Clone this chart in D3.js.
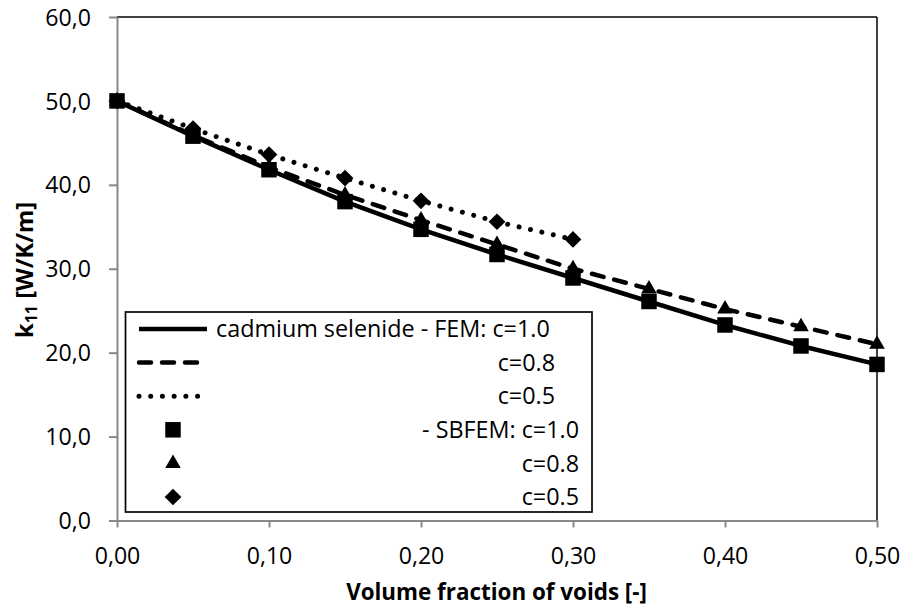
<!DOCTYPE html>
<html>
<head>
<meta charset="utf-8">
<script src="https://cdn.jsdelivr.net/npm/d3@7"></script>
<style>
body { margin: 0; background: #fff; }
svg { display: block; font-family: "Open Sans", sans-serif; }
</style>
</head>
<body>
<svg id="chart" width="906" height="612"></svg>
<script>
// values
var voidFraction = [0.00, 0.05, 0.10, 0.15, 0.20, 0.25, 0.30, 0.35, 0.40, 0.45, 0.50];
var femC10 = [50.0, 45.8, 41.8, 38.0, 34.7, 31.7, 28.9, 26.1, 23.3, 20.8, 18.6];
var femC08 = [50.0, 45.9, 42.1, 38.8, 35.8, 32.9, 30.0, 27.6, 25.2, 23.1, 21.0];
var femC05 = [50.0, 46.7, 43.6, 40.8, 38.1, 35.6, 33.5];
var sbfemC10 = [50.0, 45.8, 41.8, 38.0, 34.7, 31.7, 28.9, 26.1, 23.3, 20.8, 18.6];
var sbfemC08 = [50.0, 45.9, 42.1, 38.8, 35.8, 32.9, 30.0, 27.6, 25.2, 23.1, 21.0];
var sbfemC05 = [50.0, 46.7, 43.6, 40.8, 38.1, 35.6, 33.5];
var xTicks = [0, 0.1, 0.2, 0.3, 0.4, 0.5];
var yTicks = [0, 10, 20, 30, 40, 50, 60];
var legendLabels = ["cadmium selenide - FEM: c=1.0", "c=0.8", "c=0.5", "- SBFEM: c=1.0", "c=0.8", "c=0.5"];

var AXIS_GREY = "#898989";
var DOTS = "0.01,11.7";

var svg = d3.select("#chart");
var x = d3.scaleLinear().domain([0, 0.5]).range([117, 877]);
var y = d3.scaleLinear().domain([0, 60]).range([520.5, 17]);

var locale = d3.formatLocale({decimal: ",", thousands: ".", grouping: [3], currency: ["", ""]});
var fmtX = locale.format(".2f"),
    fmtY = locale.format(".1f");

function zip(values) {
    return values.map(function (v, i) {
        return [voidFraction[i], v];
    });
}

// scale a text's font so it spans the given width
function fitWidth(text, target) {
    text.style("font-size", "20px");
    var w = text.node().getComputedTextLength();
    var size = 20 * target / w;
    text.style("font-size", size + "px");
    return size;
}

var probe = svg.append("text").text("60,0");
var tickFont = fitWidth(probe, 45.7);
probe.remove();

// plot frame (top and right in black)
svg.append("line")
    .attr("x1", x(0)).attr("x2", x(0.5))
    .attr("y1", y(60)).attr("y2", y(60))
    .attr("stroke", "#000").attr("stroke-width", 1.5);
svg.append("line")
    .attr("x1", x(0.5)).attr("x2", x(0.5))
    .attr("y1", y(60)).attr("y2", y(0))
    .attr("stroke", "#000").attr("stroke-width", 1.5);

var gx = svg.append("g")
    .attr("transform", "translate(0," + y(0) + ")")
    .call(d3.axisBottom(x).tickValues(xTicks).tickFormat(fmtX).tickSize(7).tickSizeOuter(0));
var gy = svg.append("g")
    .attr("transform", "translate(" + x(0) + ",0)")
    .call(d3.axisLeft(y).tickValues(yTicks).tickFormat(fmtY).tickSize(8).tickSizeOuter(0).tickPadding(18));

[gx, gy].forEach(function (g) {
    g.select(".domain").attr("stroke", AXIS_GREY).attr("stroke-width", 2);
    g.selectAll(".tick line").attr("stroke", AXIS_GREY).attr("stroke-width", 2);
    g.selectAll(".tick text")
        .attr("fill", "#000")
        .style("font-family", "'Open Sans', sans-serif")
        .style("font-size", tickFont + "px");
});
gx.selectAll(".tick text").attr("y", 43.5).attr("dy", 0);
gy.selectAll(".tick text").attr("dy", "0.35em");

// axis titles
var xTitle = svg.append("text")
    .attr("x", 496.5).attr("y", 600)
    .attr("text-anchor", "middle")
    .style("font-weight", "bold")
    .text("Volume fraction of voids [-]");
fitWidth(xTitle, 301);

var yTitle = svg.append("text")
    .attr("transform", "translate(33,270) rotate(-90)")
    .attr("text-anchor", "middle")
    .style("font-weight", "bold");
yTitle.append("tspan").text("k");
yTitle.append("tspan").attr("dy", "0.25em").style("font-size", "0.68em").text("11");
yTitle.append("tspan").attr("dy", "-0.17em").text(" [W/K/m]");
fitWidth(yTitle, 136);

// FEM lines
var line = d3.line()
    .x(function (d) { return x(d[0]); })
    .y(function (d) { return y(d[1]); });

var lineStyles = [
    {data: femC10, dash: null},
    {data: femC08, dash: "12,11"},
    {data: femC05, dash: DOTS}
];
lineStyles.forEach(function (s) {
    svg.append("path")
        .datum(zip(s.data))
        .attr("d", line)
        .attr("fill", "none")
        .attr("stroke", "#000")
        .attr("stroke-width", s.dash === DOTS ? 5 : 4.5)
        .attr("stroke-linecap", s.dash ? "round" : "butt")
        .attr("stroke-linejoin", "round")
        .attr("stroke-dasharray", s.dash);
});

// SBFEM markers
var markerStyles = [
    {data: sbfemC10, symbol: d3.symbol().type(d3.symbolSquare).size(240), rot: 0},
    {data: sbfemC08, symbol: d3.symbol().type(d3.symbolTriangle).size(105), rot: 0},
    {data: sbfemC05, symbol: d3.symbol().type(d3.symbolSquare).size(140), rot: 45}
];
markerStyles.forEach(function (m) {
    svg.append("g").selectAll("path")
        .data(zip(m.data))
        .enter().append("path")
        .attr("d", m.symbol)
        .attr("fill", "#000")
        .attr("transform", function (d) {
            return "translate(" + x(d[0]) + "," + y(d[1]) + ") rotate(" + m.rot + ")";
        });
});

// legend
var legend = svg.append("g");
legend.append("rect")
    .attr("x", 125.5).attr("y", 312)
    .attr("width", 466.5).attr("height", 200)
    .attr("fill", "#fff")
    .attr("stroke", "#000").attr("stroke-width", 1.7);

var rowY = function (i) { return 329 + i * 33.6; };
lineStyles.forEach(function (s, i) {
    legend.append("line")
        .attr("x1", 139).attr("x2", 207)
        .attr("y1", rowY(i)).attr("y2", rowY(i))
        .attr("stroke", "#000")
        .attr("stroke-width", s.dash === DOTS ? 5 : 4.5)
        .attr("stroke-linecap", s.dash ? "round" : "butt")
        .attr("stroke-dasharray", s.dash);
});
markerStyles.forEach(function (m, i) {
    legend.append("path")
        .attr("d", m.symbol)
        .attr("transform", "translate(173," + rowY(i + 3) + ") rotate(" + m.rot + ")");
});

var textEnds = [550, 555, 555, 579, 579, 579];
var first = legend.append("text")
    .attr("x", 216).attr("y", rowY(0)).attr("dy", "0.35em")
    .text(legendLabels[0]);
var legendFont = fitWidth(first, 334);
legendLabels.slice(1).forEach(function (label, i) {
    legend.append("text")
        .attr("x", textEnds[i + 1]).attr("y", rowY(i + 1)).attr("dy", "0.35em")
        .attr("text-anchor", "end")
        .style("font-size", legendFont + "px")
        .text(label);
});
</script>
</body>
</html>
